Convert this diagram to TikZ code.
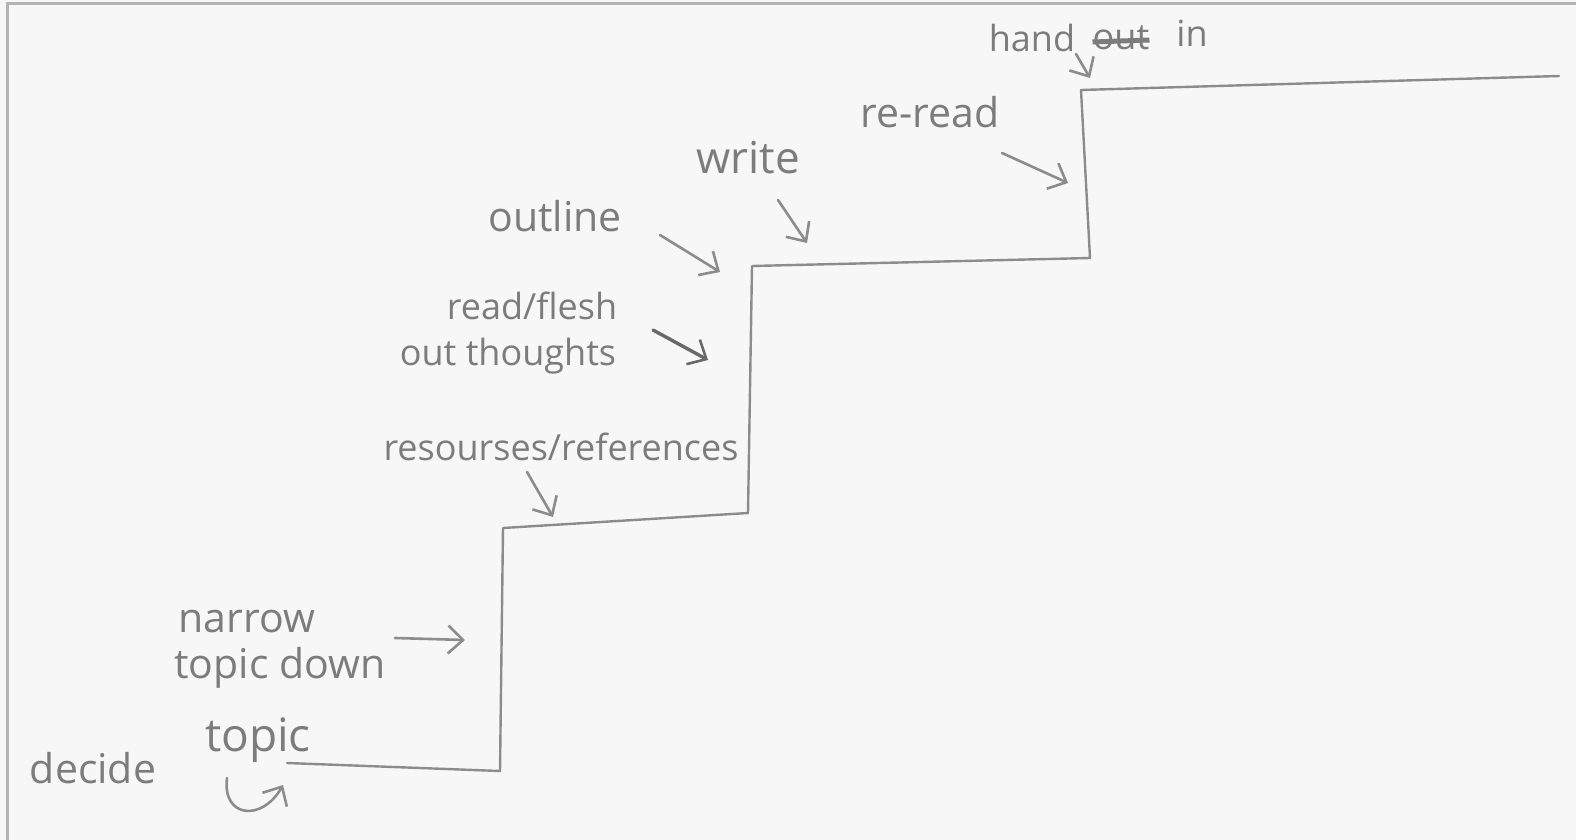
\documentclass[tikz,border=0pt]{standalone}
\usepackage{fontspec}
\setmainfont{Open Sans}
\usetikzlibrary{arrows.meta}
\definecolor{pencil}{HTML}{8C8C8C}
\definecolor{ink}{HTML}{7C7C7C}
\definecolor{framegray}{HTML}{B4B4B4}
\definecolor{paper}{HTML}{F7F7F7}
\begin{document}
\begin{tikzpicture}[x=1pt,y=-1pt,
  lbl/.style={text=ink, font=\fontsize{36}{40}\selectfont, inner sep=0pt, anchor=center},
  big/.style={font=\fontsize{41}{44}\selectfont},
  stair/.style={draw=pencil, line width=2.4pt, line join=round, line cap=round},
  ptr/.style={draw=pencil, line width=2.6pt, line cap=round,
    -{Straight Barb[length=15pt,width=28pt,line width=2.6pt]}},
]
\useasboundingbox (0,0) rectangle (1576,840);
\fill[paper] (0,0) rectangle (1576,840);
\draw[framegray, line width=3pt] (7,840) -- (7,4) -- (1576,4);

% staircase
\coordinate (s0) at (287,763);
\coordinate (s1) at (500,771);
\coordinate (s2) at (503,528);
\coordinate (s3) at (748,513);
\coordinate (s4) at (752,266);
\coordinate (s5) at (1090,258);
\coordinate (s6) at (1081,90);
\coordinate (s7) at (1559,76);
\draw[stair] (s0) -- (s1) -- (s2) -- (s3) -- (s4) -- (s5) -- (s6) -- (s7);

% labels
\node[lbl] (hand) at (1032,38) {hand};
\node[lbl] (out) at (1121,38) {out};
\node[lbl] (in) at (1192,33) {in};
\draw[ink, line width=5pt] ([yshift=-4pt]out.west) -- ([yshift=-2pt]out.east);

\node[lbl, big] (reread) at (930,112) {re-read};
\node[lbl, font=\fontsize{44}{46}\selectfont] (write) at (748,158) {write};
\node[lbl, big] (outline) at (555,216) {outline};
\node[lbl] (read) at (532,306) {read/flesh};
\node[lbl] (thoughts) at (508,356) {out thoughts};
\node[lbl] (res) at (561,447) {resourses/references};
\node[lbl, big] (narrow) at (247,622) {narrow};
\node[lbl, big] (topicdown) at (280,668) {topic down};
\node[lbl, big] (decide) at (93,768) {decide};
\node[lbl, font=\fontsize{46}{48}\selectfont] (topic) at (258,740) {topic};

% pointer arrows
\coordinate (h1) at (1076,54);  \coordinate (h2) at (1090,78);
\coordinate (r1) at (1002,153); \coordinate (r2) at (1068,183);
\coordinate (w1) at (778,200);  \coordinate (w2) at (807,243);
\coordinate (o1) at (660,235);  \coordinate (o2) at (720,272);
\coordinate (f1) at (653,330);  \coordinate (f2) at (708,360);
\coordinate (e1) at (527,472);  \coordinate (e2) at (553,517);
\coordinate (n1) at (395,638);  \coordinate (n2) at (465,640);
\coordinate (c1) at (227,778);  \coordinate (c2) at (283,785);

\draw[ptr] (h1) -- (h2);
\draw[ptr] (r1) -- (r2);
\draw[ptr] (w1) -- (w2);
\draw[ptr] (o1) -- (o2);
\draw[ptr, line width=3.4pt, draw=ink!85!black] (f1) -- (f2);
\draw[ptr] (e1) -- (e2);
\draw[ptr] (n1) -- (n2);
\draw[ptr] (c1) .. controls (222,818) and (262,822) .. (c2);
\end{tikzpicture}
\end{document}
